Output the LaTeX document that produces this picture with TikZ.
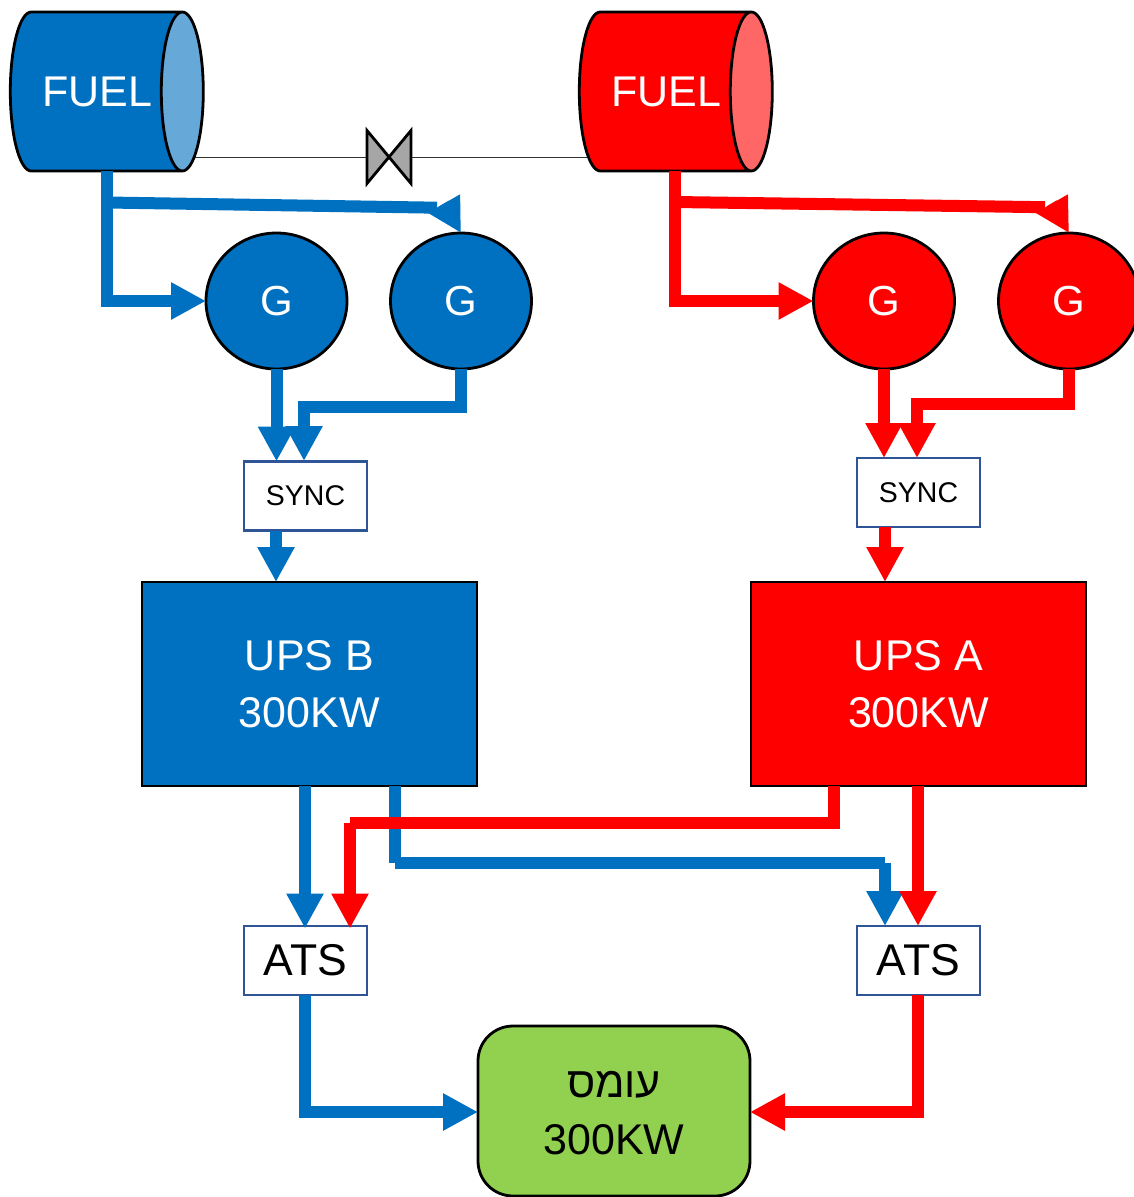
\documentclass[tikz,border=0pt]{standalone}
\usepackage{fontspec}
\setmainfont{Liberation Sans}
\newfontfamily\hebfont[Script=Hebrew]{Liberation Sans}
\TeXXeTstate=1
\usetikzlibrary{arrows.meta,shapes.geometric}
\definecolor{bl}{HTML}{0070C0}
\definecolor{rd}{HTML}{FF0000}
\definecolor{lbl}{HTML}{66A9D9}
\definecolor{lrd}{HTML}{FF6666}
\definecolor{gr}{HTML}{92D050}
\definecolor{bx}{HTML}{2F5597}
\definecolor{vg}{HTML}{A6A6A6}
\tikzset{
  txt/.style={font=\fontsize{43}{57}\selectfont},
  tank/.style={cylinder,draw=black,line width=2.8pt,shape aspect=1.4,minimum width=159pt,minimum height=193pt,
    cylinder uses custom fill,inner sep=0pt,outer sep=0pt,text=white,txt},
  gen/.style={ellipse,draw=black,line width=2.8pt,minimum width=141pt,minimum height=136pt,inner sep=0pt,outer sep=0pt,text=white,font=\fontsize{42}{50}\selectfont},
  ups/.style={rectangle,draw=black,line width=2.8pt,minimum width=335pt,minimum height=204pt,inner sep=0pt,outer sep=0pt,text=white,align=center,txt},
  sbox/.style={rectangle,draw=bx,fill=white,line width=2.8pt,minimum width=123pt,minimum height=69pt,inner sep=0pt,outer sep=0pt},
  load/.style={rectangle,rounded corners=35pt,draw=black,fill=gr,line width=2.8pt,minimum width=272pt,minimum height=170pt,inner sep=0pt,outer sep=0pt},
  flow/.style={line width=12pt,-{Triangle[length=35pt,width=35pt]}},
  flowb/.style={flow,draw=bl,color=bl},
  flowr/.style={flow,draw=rd,color=rd},
  flowshort/.style={line width=12pt,-{Triangle[length=34pt,width=34.5pt]}},
  thin link/.style={draw=black!80,line width=1pt},
}
\begin{document}
\begin{tikzpicture}[x=1pt,y=-1pt]
\useasboundingbox (0,0) rectangle (1134,1197);
\node[minimum width=44pt,minimum height=53pt,inner sep=0pt,outer sep=0pt] (valve) at (389,157) {};
\coordinate (pipeL) at (190,157);
\coordinate (pipeR) at (600,157);
\draw[thin link] (pipeL) -- (valve);
\draw[thin link] (valve) -- (pipeR);
\node[tank,cylinder body fill=bl,cylinder end fill=lbl] (tankB) at (95.6,91.5) {\hspace*{3pt}FUEL};
\node[tank,cylinder body fill=rd,cylinder end fill=lrd] (tankR) at (664.6,91.5) {\hspace*{3pt}FUEL};
\draw[fill=vg,line width=2.8pt,line join=miter] (valve.north west) -- (valve.south east) -- (valve.north east) -- (valve.south west) -- cycle;

\node[gen,fill=bl] (gb1) at (276.5,301) {G};
\node[gen,fill=bl] (gb2) at (461,301) {G};
\node[gen,fill=rd] (gr1) at (884,301) {G};
\node[gen,fill=rd] (gr2) at (1069,301) {G};

\node[sbox,font=\fontsize{28.5}{34}\selectfont] (syb) at (305.5,496) {SYNC};
\node[sbox,font=\fontsize{28.5}{34}\selectfont] (syr) at (918.5,492.5) {SYNC};

\node[ups,fill=bl] (upb) at (309.5,684) {UPS B\\300KW};
\node[ups,fill=rd] (upr) at (918.5,684) {UPS A\\300KW};

\node[sbox,font=\fontsize{44.5}{57}\selectfont] (atb) at (305.5,960.5) {ATS};
\node[sbox,font=\fontsize{44.5}{57}\selectfont] (atr) at (918.5,960.5) {ATS};

\node[load] (ld) at (614,1111) {};
\node[txt,align=center,inner sep=0pt] (ldtext) at (614,1113.5) {{\hebfont\beginR עומס\endR}\\300KW};

% fuel feeds
\draw[flowb] (tankB.south -| 107,0) -- (107,301) -- (gb1.west);
\draw[flowr] (tankR.south -| 675,0) -- (675,301) -- (gr1.west);
\draw[line width=12pt,draw=bl] (107,202.5) -- (437,207.7);
\draw[flowshort,draw=bl,color=bl] (444,203.5) -- (gb2.north);
\draw[line width=12pt,draw=rd] (675,202) -- (1045,207.2);
\draw[flowshort,draw=rd,color=rd] (1051.7,203.3) -- (gr2.north);

% generators to sync
\draw[flowb] (gb1.south) -- (gb1.south |- syb.north);
\draw[flowb] (gb2.south) -- (461,407) -- (304,407) -- (304,461);
\draw[flowr] (gr1.south) -- (gr1.south |- syr.north);
\draw[flowr] (gr2.south) -- (1069,404) -- (917,404) -- (917,458);

% sync to ups
\draw[flowb] (syb.south -| 276,0) -- (upb.north -| 276,0);
\draw[flowr] (syr.south -| 885,0) -- (upr.north -| 885,0);

% ups to ats
\draw[flowb] (upb.south -| 305,0) -- ([yshift=-2.5pt]atb.north -| 305,0);
\draw[flowb] (upb.south -| 395,0) -- (395,863) (395,863) -- (885,863) (885,863) -- (atr.north -| 885,0);
\draw[flowr] (upr.south -| 834,0) -- (834,823) -- (350,823) (350,823) -- ([yshift=-2.5pt]atb.north -| 350,0);
\draw[flowr] (upr.south -| 918,0) -- (atr.north -| 918,0);

% ats to load
\draw[flowb] (atb.south -| 305,0) -- (305,1112) -- (ld.west |- 0,1112);
\draw[flowr] (atr.south -| 918,0) -- (918,1112) -- (ld.east |- 0,1112);
\end{tikzpicture}
\end{document}
